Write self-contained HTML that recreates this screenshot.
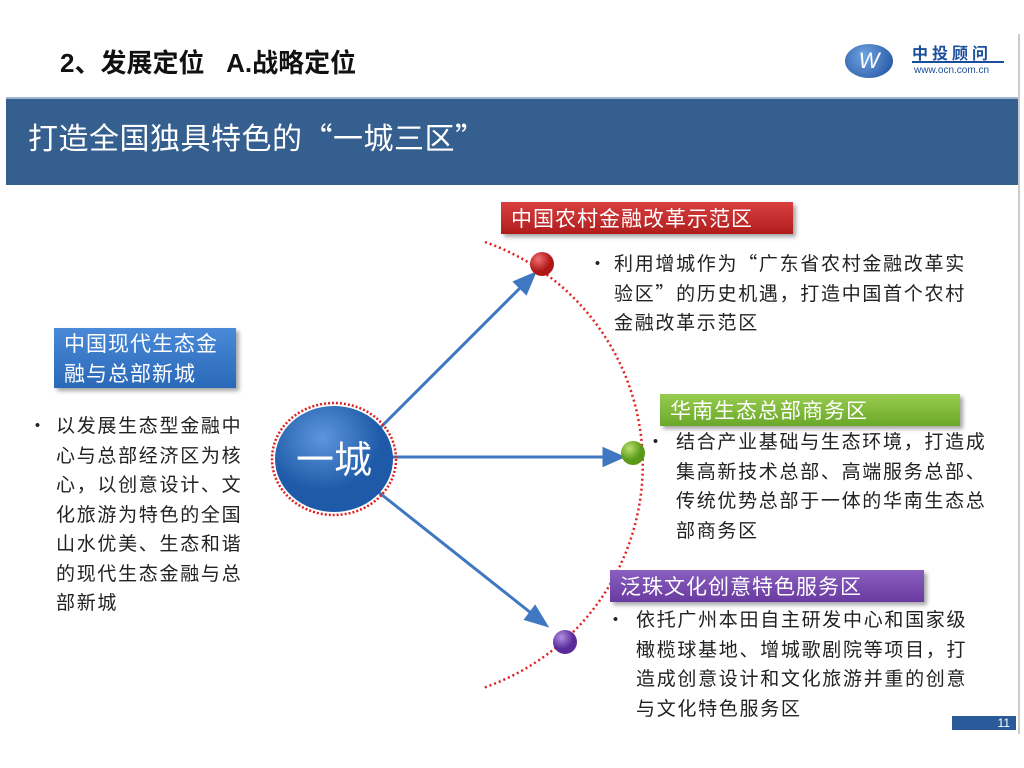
<!DOCTYPE html>
<html><head><meta charset="utf-8"><style>
body{margin:0;width:1024px;height:768px;overflow:hidden;background:#fff;font-family:"Liberation Sans","Noto Sans CJK SC",sans-serif;position:relative}
.a{position:absolute}
.t{font-size:19px;color:#222;line-height:29.5px;letter-spacing:1.7px;font-family:"Noto Sans CJK SC",sans-serif}
.lab{position:absolute;color:#fff;font-size:21px;padding:0 10px;box-shadow:3px 3px 4px rgba(0,0,0,.35);font-family:"Noto Sans CJK SC",sans-serif;letter-spacing:1px}
</style></head><body>
<div class="a" style="left:60px;top:43px;font-size:26px;font-weight:bold;color:#111">2、发展定位&nbsp;&nbsp;&nbsp;A.战略定位</div>
<div class="a" style="left:845px;top:44px;width:48px;height:34px;border-radius:50%;background:radial-gradient(circle at 40% 35%,#6fa3e0,#1a4d9c);color:#fff;font-style:italic;font-size:22px;text-align:center;line-height:34px">W</div>
<div class="a" style="left:912px;top:40px;font-size:16px;color:#1a4d9c;font-weight:bold;letter-spacing:4px">中投顾问</div>
<div class="a" style="left:912px;top:61px;width:92px;height:2px;background:#1a4d9c"></div>
<div class="a" style="left:914px;top:65px;font-size:10px;color:#1a4d9c">www.ocn.com.cn</div>
<div class="a" style="left:1018px;top:34px;width:2px;height:700px;background:#ccc"></div>
<div class="a" style="left:6px;top:97px;width:1012px;height:86px;background:#355f8f;border-top:2px solid #9fb6d2"></div>
<div class="a" style="left:28px;top:114px;font-size:30px;color:#fff;font-family:'Noto Sans CJK SC',sans-serif;letter-spacing:0.5px">打造全国独具特色的“一城三区”</div>

<svg class="a" style="left:0;top:0" width="1024" height="768">
<defs>
<radialGradient id="g" cx="40%" cy="30%"><stop offset="0" stop-color="#5d96dc"/><stop offset="1" stop-color="#1e5aa8"/></radialGradient>
<radialGradient id="r" cx="35%" cy="30%"><stop offset="0" stop-color="#f07070"/><stop offset="1" stop-color="#b01818"/></radialGradient>
<radialGradient id="gr" cx="35%" cy="30%"><stop offset="0" stop-color="#b8e070"/><stop offset="1" stop-color="#5a9a18"/></radialGradient>
<radialGradient id="p" cx="35%" cy="30%"><stop offset="0" stop-color="#b090e0"/><stop offset="1" stop-color="#5a2a9a"/></radialGradient>
</defs>
<path d="M485,242 A236,236 0 0 1 483,688" fill="none" stroke="#e02020" stroke-width="2.5" stroke-dasharray="2,3"/>
<g stroke="#3f78c0" stroke-width="3" fill="#3f78c0">
<line x1="380" y1="428" x2="522" y2="286"/><path d="M534,274 L515,282 L526,293z"/>
<line x1="385" y1="457" x2="605" y2="457"/><path d="M622,457 L604,449 L604,465z"/>
<line x1="372" y1="487" x2="531" y2="613"/><path d="M546,625 L535,607 L526,619z"/>
</g>
<ellipse cx="334" cy="459" rx="62" ry="56" fill="none" stroke="#e02020" stroke-width="2.5" stroke-dasharray="2,2"/>
<ellipse cx="334" cy="459" rx="59" ry="53" fill="url(#g)"/>
<text x="334" y="473" font-size="38" fill="#fff" text-anchor="middle" font-family="Noto Sans CJK SC,sans-serif">一城</text>
<circle cx="542" cy="264" r="12" fill="url(#r)"/>
<circle cx="633" cy="453" r="12" fill="url(#gr)"/>
<circle cx="565" cy="642" r="12" fill="url(#p)"/>
</svg>

<div class="lab" style="left:501px;top:202px;height:32px;line-height:32px;background:linear-gradient(#d84040,#b01c1c);width:272px">中国农村金融改革示范区</div>
<div class="lab" style="left:660px;top:394px;height:32px;line-height:32px;background:linear-gradient(#98cc50,#6aa82a);width:280px">华南生态总部商务区</div>
<div class="lab" style="left:610px;top:570px;height:32px;line-height:32px;background:linear-gradient(#8a60c0,#6a3aa0);width:294px">泛珠文化创意特色服务区</div>
<div class="lab" style="left:54px;top:328px;width:162px;padding:0 10px;line-height:30px;background:linear-gradient(#4a8ad8,#2a68b8);font-size:21px">中国现代生态金融与总部新城</div>

<div class="a t" style="left:588px;top:248px">•</div>
<div class="a t" style="left:614px;top:248px;width:360px">利用增城作为“广东省农村金融改革实验区”的历史机遇，打造中国首个农村金融改革示范区</div>
<div class="a t" style="left:646px;top:426px">•</div>
<div class="a t" style="left:676px;top:426px;width:318px">结合产业基础与生态环境，打造成集高新技术总部、高端服务总部、传统优势总部于一体的华南生态总部商务区</div>
<div class="a t" style="left:606px;top:604px">•</div>
<div class="a t" style="left:636px;top:604px;width:340px">依托广州本田自主研发中心和国家级橄榄球基地、增城歌剧院等项目，打造成创意设计和文化旅游并重的创意与文化特色服务区</div>
<div class="a t" style="left:28px;top:410px">•</div>
<div class="a t" style="left:56px;top:410px;width:194px">以发展生态型金融中心与总部经济区为核心，以创意设计、文化旅游为特色的全国山水优美、生态和谐的现代生态金融与总部新城</div>

<div class="a" style="left:952px;top:716px;width:64px;height:14px;background:#2a5a9a;color:#fff;font-size:12px;text-align:right;line-height:14px;padding-right:6px;box-sizing:border-box">11</div>
</body></html>
